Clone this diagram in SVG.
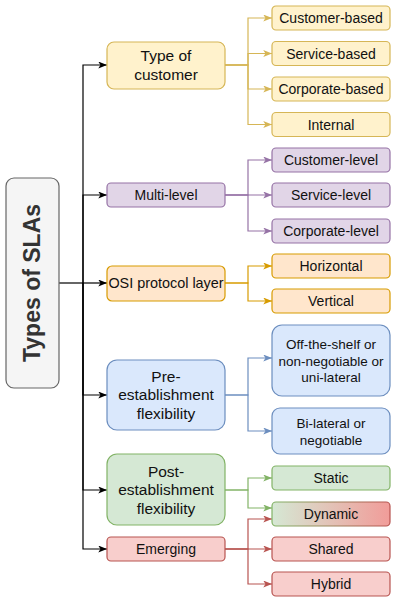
<svg xmlns="http://www.w3.org/2000/svg" width="400" height="603" viewBox="0 0 400 603">
<style>
text{font-family:"Liberation Sans",Arial,Helvetica,sans-serif;fill:#111;text-anchor:middle;dominant-baseline:central}
.lf{font-size:14px}
.lf2{font-size:13.5px}
.ct{font-size:15.5px}
.cs{font-size:14px}
.y{fill:#fff2cc;stroke:#d6b656}
.p{fill:#e1d5e7;stroke:#9673a6}
.o{fill:#ffe6cc;stroke:#d79b00}
.b{fill:#dae8fc;stroke:#6c8ebf}
.g{fill:#d5e8d4;stroke:#82b366}
.r{fill:#f8cecc;stroke:#b85450}
rect{stroke-width:1.2}
#connectors path{fill:none;stroke-width:1.2}
</style>
<defs>
<linearGradient id="dyn" x1="0" y1="0" x2="1" y2="0">
<stop offset="0" stop-color="#d5e8d4"/>
<stop offset="1" stop-color="#f19c99"/>
</linearGradient>
<linearGradient id="dyns" x1="0" y1="0" x2="1" y2="0">
<stop offset="0" stop-color="#82b366"/>
<stop offset="1" stop-color="#b85450"/>
</linearGradient>
<marker id="ak" viewBox="0 0 10 8" refX="10" refY="4" markerWidth="9" markerHeight="7" markerUnits="userSpaceOnUse" orient="auto"><path d="M0,0L10,4L0,8L2.5,4z" fill="#000"/></marker>
<marker id="ay" viewBox="0 0 10 8" refX="10" refY="4" markerWidth="9" markerHeight="7" markerUnits="userSpaceOnUse" orient="auto"><path d="M0,0L10,4L0,8L2.5,4z" fill="#d6b656"/></marker>
<marker id="ap" viewBox="0 0 10 8" refX="10" refY="4" markerWidth="9" markerHeight="7" markerUnits="userSpaceOnUse" orient="auto"><path d="M0,0L10,4L0,8L2.5,4z" fill="#9673a6"/></marker>
<marker id="ao" viewBox="0 0 10 8" refX="10" refY="4" markerWidth="9" markerHeight="7" markerUnits="userSpaceOnUse" orient="auto"><path d="M0,0L10,4L0,8L2.5,4z" fill="#d79b00"/></marker>
<marker id="ab" viewBox="0 0 10 8" refX="10" refY="4" markerWidth="9" markerHeight="7" markerUnits="userSpaceOnUse" orient="auto"><path d="M0,0L10,4L0,8L2.5,4z" fill="#6c8ebf"/></marker>
<marker id="ag" viewBox="0 0 10 8" refX="10" refY="4" markerWidth="9" markerHeight="7" markerUnits="userSpaceOnUse" orient="auto"><path d="M0,0L10,4L0,8L2.5,4z" fill="#82b366"/></marker>
<marker id="ar" viewBox="0 0 10 8" refX="10" refY="4" markerWidth="9" markerHeight="7" markerUnits="userSpaceOnUse" orient="auto"><path d="M0,0L10,4L0,8L2.5,4z" fill="#b85450"/></marker>
</defs>
<rect width="400" height="603" fill="#fff" style="stroke:none"/>

<g id="connectors">
<g stroke="#000">
<path d="M59,283H83"/>
<path d="M83,283V65H107" marker-end="url(#ak)"/>
<path d="M83,283V195H107" marker-end="url(#ak)"/>
<path d="M83,283H107" marker-end="url(#ak)"/>
<path d="M83,283V395H107" marker-end="url(#ak)"/>
<path d="M83,283V490H107" marker-end="url(#ak)"/>
<path d="M83,283V549H107" marker-end="url(#ak)"/>
</g>
<g stroke="#d6b656">
<path d="M225,65H248V18H272" marker-end="url(#ay)"/>
<path d="M225,65H248V53.5H272" marker-end="url(#ay)"/>
<path d="M225,65H248V89H272" marker-end="url(#ay)"/>
<path d="M225,65H248V124.5H272" marker-end="url(#ay)"/>
</g>
<g stroke="#9673a6">
<path d="M225,195H248V160H272" marker-end="url(#ap)"/>
<path d="M225,195H272" marker-end="url(#ap)"/>
<path d="M225,195H248V231H272" marker-end="url(#ap)"/>
</g>
<g stroke="#d79b00">
<path d="M225,283H248V266H272" marker-end="url(#ao)"/>
<path d="M225,283H248V301H272" marker-end="url(#ao)"/>
</g>
<g stroke="#6c8ebf">
<path d="M225,395H248V358H272" marker-end="url(#ab)"/>
<path d="M225,395H248V431H272" marker-end="url(#ab)"/>
</g>
<g stroke="#82b366">
<path d="M225,490H248V478H272" marker-end="url(#ag)"/>
<path d="M225,490H248V508H272" marker-end="url(#ag)"/>
</g>
<g stroke="#b85450">
<path d="M225,549H248V519H272" marker-end="url(#ar)"/>
<path d="M225,549H272" marker-end="url(#ar)"/>
<path d="M225,549H248V584H272" marker-end="url(#ar)"/>
</g>
</g>

<g id="root">
<rect x="6" y="178" width="53" height="210" rx="8" fill="#f5f5f5" stroke="#666666"/>
<text transform="translate(32,283) rotate(-90)" style="font-size:23px;font-weight:bold;fill:#333">Types of SLAs</text>
</g>

<g id="type-of-customer">
<rect class="y" x="107" y="42" width="118" height="47" rx="7"/>
<text class="ct" x="166" y="55">Type of</text>
<text class="ct" x="166" y="74">customer</text>
</g>
<g id="customer-based"><rect class="y" x="272" y="6" width="118" height="24" rx="4"/><text class="lf" x="331" y="18">Customer-based</text></g>
<g id="service-based"><rect class="y" x="272" y="41.5" width="118" height="24" rx="4"/><text class="lf" x="331" y="53.5">Service-based</text></g>
<g id="corporate-based"><rect class="y" x="272" y="77" width="118" height="24" rx="4"/><text class="lf" x="331" y="89">Corporate-based</text></g>
<g id="internal"><rect class="y" x="272" y="112.5" width="118" height="24" rx="4"/><text class="lf" x="331" y="124.5">Internal</text></g>

<g id="multi-level"><rect class="p" x="107" y="183" width="118" height="24" rx="4"/><text class="cs" x="166" y="195">Multi-level</text></g>
<g id="customer-level"><rect class="p" x="272" y="148" width="118" height="24" rx="4"/><text class="lf" x="331" y="160">Customer-level</text></g>
<g id="service-level"><rect class="p" x="272" y="183" width="118" height="24" rx="4"/><text class="lf" x="331" y="195">Service-level</text></g>
<g id="corporate-level"><rect class="p" x="272" y="219" width="118" height="24" rx="4"/><text class="lf" x="331" y="231">Corporate-level</text></g>

<g id="osi"><rect class="o" x="107" y="266" width="118" height="35" rx="5"/><text class="cs" x="166" y="283" style="font-size:14.4px">OSI protocol layer</text></g>
<g id="horizontal"><rect class="o" x="272" y="254" width="118" height="24" rx="4"/><text class="lf" x="331" y="266">Horizontal</text></g>
<g id="vertical"><rect class="o" x="272" y="289" width="118" height="24" rx="4"/><text class="lf" x="331" y="301">Vertical</text></g>

<g id="pre-establishment">
<rect class="b" x="107" y="360" width="118" height="70" rx="10"/>
<text class="ct" x="166" y="376">Pre-</text>
<text class="ct" x="166" y="394">establishment</text>
<text class="ct" x="166" y="413">flexibility</text>
</g>
<g id="off-the-shelf">
<rect class="b" x="272" y="325" width="118" height="71" rx="10"/>
<text class="lf2" x="331" y="344">Off-the-shelf or</text>
<text class="lf2" x="331" y="361">non-negotiable or</text>
<text class="lf2" x="331" y="377">uni-lateral</text>
</g>
<g id="bi-lateral">
<rect class="b" x="272" y="408" width="118" height="46" rx="8"/>
<text class="lf2" x="331" y="423">Bi-lateral or</text>
<text class="lf2" x="331" y="440">negotiable</text>
</g>

<g id="post-establishment">
<rect class="g" x="107" y="454" width="118" height="71" rx="10"/>
<text class="ct" x="166" y="471">Post-</text>
<text class="ct" x="166" y="489">establishment</text>
<text class="ct" x="166" y="508">flexibility</text>
</g>
<g id="static"><rect class="g" x="272" y="466" width="118" height="24" rx="4"/><text class="lf" x="331" y="478">Static</text></g>
<g id="dynamic"><rect x="272" y="502" width="118" height="24" rx="4" fill="url(#dyn)" stroke="url(#dyns)"/><text class="lf" x="331" y="514">Dynamic</text></g>

<g id="emerging"><rect class="r" x="107" y="537" width="118" height="24" rx="4"/><text class="cs" x="166" y="549">Emerging</text></g>
<g id="shared"><rect class="r" x="272" y="537" width="118" height="24" rx="4"/><text class="lf" x="331" y="549">Shared</text></g>
<g id="hybrid"><rect class="r" x="272" y="572" width="118" height="24" rx="4"/><text class="lf" x="331" y="584">Hybrid</text></g>
</svg>
